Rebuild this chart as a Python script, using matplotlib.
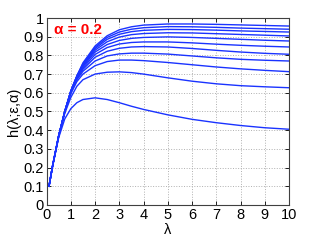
import matplotlib
matplotlib.use("Agg")
import matplotlib.pyplot as plt

lam = [0.1, 0.25, 0.5, 0.75, 1, 1.25, 1.5, 2, 2.5, 3, 3.5, 4, 5, 6, 7, 8, 9, 10]

h_curves = [
    [0.1, 0.21, 0.37, 0.50, 0.61, 0.69, 0.76, 0.85, 0.905, 0.937, 0.953, 0.962, 0.968, 0.968, 0.966, 0.963, 0.960, 0.957],
    [0.1, 0.21, 0.37, 0.50, 0.61, 0.69, 0.755, 0.843, 0.896, 0.925, 0.94, 0.948, 0.954, 0.953, 0.95, 0.946, 0.943, 0.940],
    [0.1, 0.21, 0.37, 0.50, 0.609, 0.689, 0.75, 0.836, 0.886, 0.913, 0.927, 0.934, 0.939, 0.938, 0.935, 0.931, 0.928, 0.925],
    [0.1, 0.21, 0.37, 0.50, 0.608, 0.687, 0.745, 0.828, 0.873, 0.898, 0.911, 0.917, 0.921, 0.92, 0.916, 0.912, 0.908, 0.904],
    [0.1, 0.21, 0.37, 0.50, 0.607, 0.684, 0.74, 0.818, 0.858, 0.88, 0.891, 0.896, 0.899, 0.896, 0.891, 0.886, 0.881, 0.877],
    [0.1, 0.21, 0.37, 0.50, 0.605, 0.68, 0.733, 0.805, 0.842, 0.861, 0.869, 0.872, 0.872, 0.867, 0.86, 0.854, 0.849, 0.845],
    [0.1, 0.21, 0.37, 0.50, 0.603, 0.675, 0.725, 0.79, 0.822, 0.838, 0.845, 0.847, 0.845, 0.837, 0.827, 0.818, 0.811, 0.806],
    [0.1, 0.21, 0.37, 0.50, 0.60, 0.67, 0.715, 0.77, 0.797, 0.808, 0.812, 0.812, 0.807, 0.797, 0.787, 0.779, 0.774, 0.770],
    [0.1, 0.21, 0.37, 0.495, 0.595, 0.66, 0.70, 0.745, 0.767, 0.775, 0.775, 0.772, 0.762, 0.75, 0.738, 0.728, 0.72, 0.713],
    [0.1, 0.21, 0.37, 0.49, 0.575, 0.635, 0.67, 0.70, 0.71, 0.712, 0.708, 0.70, 0.68, 0.662, 0.648, 0.638, 0.632, 0.627],
    [0.1, 0.21, 0.36, 0.46, 0.515, 0.547, 0.564, 0.573, 0.564, 0.547, 0.528, 0.511, 0.482, 0.458, 0.44, 0.425, 0.413, 0.405],
]

x_ticks = list(range(0, 11))
y_ticks = [0, 0.1, 0.2, 0.3, 0.4, 0.5, 0.6, 0.7, 0.8, 0.9, 1]
y_tick_labels = ["0", "0.1", "0.2", "0.3", "0.4", "0.5", "0.6", "0.7", "0.8", "0.9", "1"]

plt.rcParams['font.family'] = ['Liberation Sans', 'DejaVu Sans']

fig = plt.figure(figsize=(3.19, 2.40), dpi=100)
ax = fig.add_axes([0.146, 0.146, 0.760, 0.779])

for h in h_curves:
    ax.plot(lam, h, color=(0.1, 0.2, 1.0), linewidth=1.0)

ax.set_xlim(0, 10)
ax.set_ylim(0, 1)
ax.set_xticks(x_ticks)
ax.set_yticks(y_ticks)
ax.set_yticklabels(y_tick_labels)
ax.tick_params(direction='in', labelsize=10.5, length=3, width=0.6, top=True, right=True, pad=2)
ax.grid(True, linestyle=':', color='#b0b0b0', linewidth=0.7)
for s in ax.spines.values():
    s.set_linewidth(0.8)
    s.set_color('#404040')

ax.set_xlabel('λ', fontsize=10.5, labelpad=1)
ax.set_ylabel('h(λ;ε,α)', fontsize=10.5, labelpad=2)
ax.text(0.32, 0.935, 'α = 0.2', color='red', fontsize=11, fontweight='bold', va='center', ha='left')

fig.savefig('out.png', dpi=100)
